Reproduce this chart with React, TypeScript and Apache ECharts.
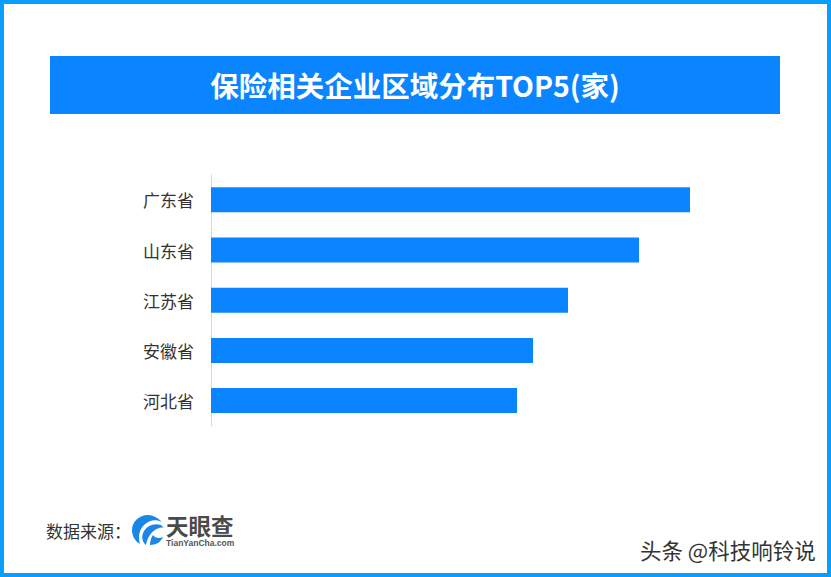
import React, { useEffect, useRef } from 'react';
import * as echarts from 'echarts';

const provinces = ['广东省', '山东省', '江苏省', '安徽省', '河北省'];
// No value labels in the source, so these are bar lengths
const companyCounts = [479, 428, 357, 322, 306];

const titleText = '保险相关企业区域分布TOP5(家)';
const sourceLabel = '数据来源：';
const watermark = '头条 @科技响铃说';

const CJK = '"Noto Sans CJK SC", "Noto Sans", sans-serif';

// rough trace of the TianYanCha swirl logo
echarts.graphic.registerShape(
  'tycSwirl',
  echarts.graphic.extendPath(
    'M148 515C139 515 132 522 132 530C132 536 135 541 140 544C138 537 139 530 144 525C149 520 156 519 162 522C158 518 153 515 148 515Z M161 525C154 523 148 525 144 531C141 536 142 542 146 545C147 539 150 533 155 530C158 528 161 527 164 528C163 527 162 526 161 525Z M150 545C156 545 161 542 163 537C159 539 155 538 153 535C151 538 150 541 150 545Z',
    {}
  )
);

const App: React.FC = () => {
  const chartRef = useRef<HTMLDivElement>(null);

  useEffect(() => {
    if (!chartRef.current) return;

    const chart = echarts.init(chartRef.current, undefined, { renderer: 'svg' });

    chart.setOption({
      animation: false,
      backgroundColor: '#ffffff',
      grid: { left: 211, top: 174.7, width: 479, height: 251, containLabel: false },
      xAxis: { type: 'value', min: 0, max: 479, show: false },
      yAxis: {
        type: 'category',
        data: provinces,
        inverse: true,
        axisLine: { show: true, lineStyle: { color: '#d9d9d9', width: 1 } },
        axisTick: { show: false },
        axisLabel: { color: '#333333', fontSize: 17, fontFamily: CJK, margin: 17, padding: [0, 0, 6, 0] }
      },
      series: [{
        type: 'bar',
        data: companyCounts,
        barWidth: 25,
        itemStyle: { color: '#0a84ff' }
      }],
      graphic: [
        // window border
        {
          type: 'rect',
          silent: true,
          shape: { x: 2, y: 2, width: 827, height: 573 },
          style: { fill: 'none', stroke: '#0a9dfb', lineWidth: 4 }
        },
        {
          type: 'rect',
          shape: { x: 50, y: 56, width: 730, height: 58 },
          style: { fill: '#0a84ff' }
        },
        {
          type: 'text',
          x: 415,
          y: 84.5,
          style: {
            text: titleText,
            fill: '#ffffff',
            font: `bold 28.5px ${CJK}`,
            textAlign: 'center',
            textVerticalAlign: 'middle'
          }
        },
        {
          type: 'text',
          x: 46,
          y: 530,
          style: {
            text: sourceLabel,
            fill: '#333333',
            font: `17px ${CJK}`,
            textVerticalAlign: 'middle'
          }
        },
        { type: 'tycSwirl', style: { fill: '#1a86e8' } },
        {
          type: 'text',
          x: 166,
          y: 524.5,
          style: {
            text: '天眼查',
            fill: '#4a4a4a',
            font: `bold 22.5px ${CJK}`,
            textVerticalAlign: 'middle'
          }
        },
        {
          type: 'text',
          x: 166,
          y: 543,
          style: {
            text: 'TianYanCha.com',
            fill: '#555555',
            font: 'bold 8.5px "Liberation Sans", sans-serif',
            textVerticalAlign: 'middle'
          }
        },
        {
          type: 'text',
          x: 640,
          y: 549,
          style: {
            text: watermark,
            fill: '#333333',
            font: `21.5px ${CJK}`,
            textVerticalAlign: 'middle'
          }
        }
      ]
    });

    return () => chart.dispose();
  }, []);

  return (
    <div
      ref={chartRef}
      style={{ position: 'fixed', left: 0, top: 0, width: 831, height: 577 }}
    ></div>
  );
};

export default App;
